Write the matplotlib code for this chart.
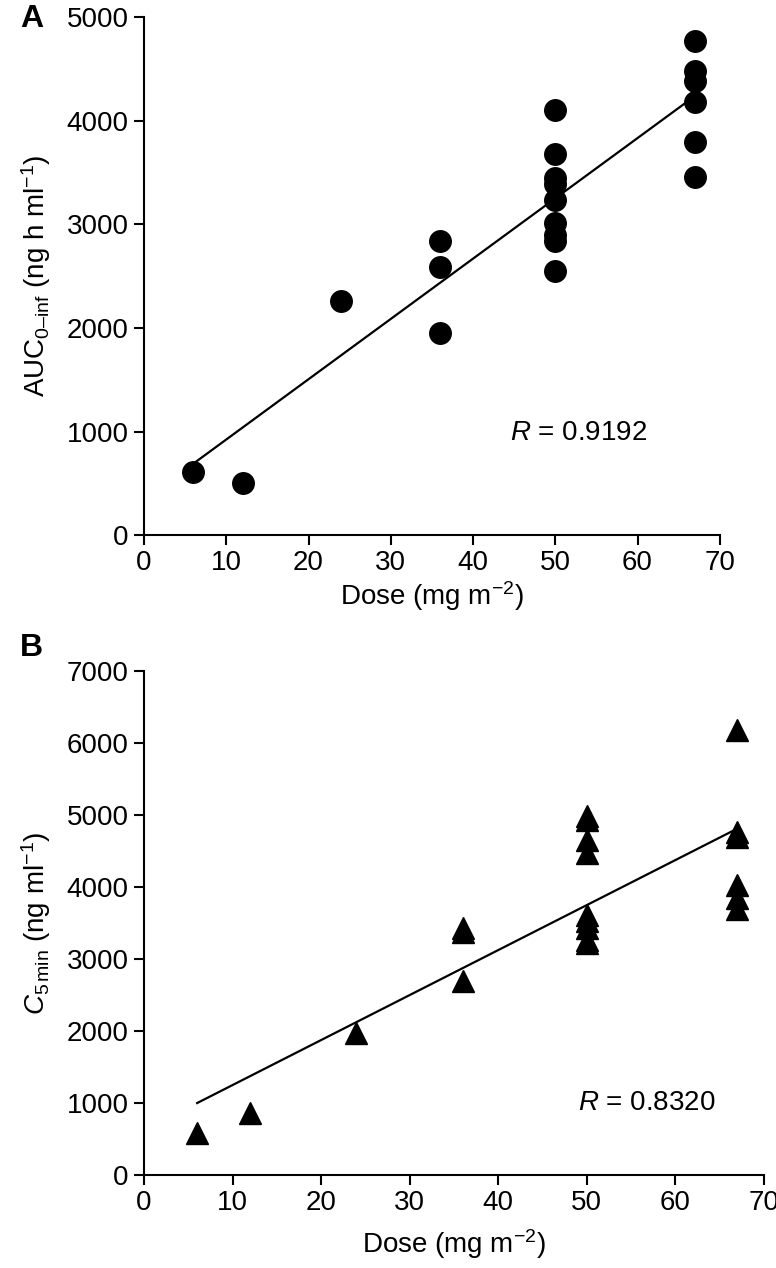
import numpy as np
import matplotlib
matplotlib.use("Agg")
import matplotlib.pyplot as plt

plt.rcParams['font.family'] = ['Liberation Sans', 'DejaVu Sans']
plt.rcParams['mathtext.fontset'] = 'custom'
plt.rcParams['mathtext.rm'] = 'Liberation Sans'
plt.rcParams['mathtext.it'] = 'Liberation Sans:italic'
plt.rcParams['font.size'] = 20

# panel A : AUC 0-inf vs dose
dose_a = [6, 12, 24, 36, 36, 36,
          50, 50, 50, 50, 50, 50, 50, 50, 50,
          67, 67, 67, 67, 67, 67]
auc = [610, 500, 2260, 2840, 2590, 1950,
       4100, 3680, 3450, 3390, 3230, 3010, 2900, 2840, 2550,
       4770, 4480, 4380, 4180, 3790, 3460]
fit_a_x = [6, 67]
fit_a_y = [690, 4240]
r_a = "0.9192"

# panel B : C 5 min vs dose
dose_b = [6, 12, 24, 36, 36, 36,
          50, 50, 50, 50, 50, 50, 50, 50, 50,
          67, 67, 67, 67, 67, 67]
c5 = [590, 860, 1970, 3430, 3370, 2700,
      4990, 4930, 4650, 4470, 3610, 3530, 3430, 3270, 3220,
      6180, 4760, 4700, 4030, 3850, 3700]
fit_b_x = [6, 67]
fit_b_y = [1000, 4810]
r_b = "0.8320"

xticks = [0, 10, 20, 30, 40, 50, 60, 70]

fig = plt.figure(figsize=(7.76, 12.68), dpi=100)
axA = fig.add_axes([0.1856, 0.578, 0.742, 0.4085])
axB = fig.add_axes([0.1856, 0.0733, 0.7985, 0.3975])

def style(ax, ymax):
    for s in ['top', 'right']:
        ax.spines[s].set_visible(False)
    for s in ['left', 'bottom']:
        ax.spines[s].set_linewidth(1.5)
    ax.set_xlim(0, 70)
    ax.set_ylim(0, ymax)
    ax.set_xticks(xticks)
    ax.set_yticks(np.arange(0, ymax + 1, 1000))
    ax.tick_params(direction='out', length=7, width=1.5, labelsize=20, pad=4)

#panel A
axA.plot(fit_a_x, fit_a_y, color='black', lw=1.6, zorder=2)
axA.plot(dose_a, auc, 'o', color='black', ms=15.5, zorder=3, clip_on=False)
style(axA, 5000)
axA.set_xlabel('Dose (mg m$^{\u22122}$)', fontsize=20, labelpad=2)
axA.set_ylabel('AUC$_{0\u2013\\mathrm{inf}}$ (ng h ml$^{\u22121}$)', fontsize=20, labelpad=10)
axA.text(44.5, 985, '$\\mathit{R}$ = ' + r_a, fontsize=20, va='center', ha='left')
fig.text(0.026, 0.985, 'A', fontsize=23, fontweight='bold', va='center', ha='left')

#panel B
axB.plot(fit_b_x, fit_b_y, color='black', lw=1.6, zorder=2)
axB.plot(dose_b, c5, '^', color='black', ms=15.5, zorder=3, clip_on=False)
style(axB, 7000)
axB.set_xlabel('Dose (mg m$^{\u22122}$)', fontsize=20, labelpad=8)
axB.set_ylabel('$\\mathit{C}_{5\\,\\mathrm{min}}$ (ng ml$^{\u22121}$)', fontsize=20, labelpad=10)
axB.text(49.0, 1000, '$\\mathit{R}$ = ' + r_b, fontsize=20, va='center', ha='left')
fig.text(0.026, 0.489, 'B', fontsize=23, fontweight='bold', va='center', ha='left')

fig.savefig('out.png', dpi=100)
